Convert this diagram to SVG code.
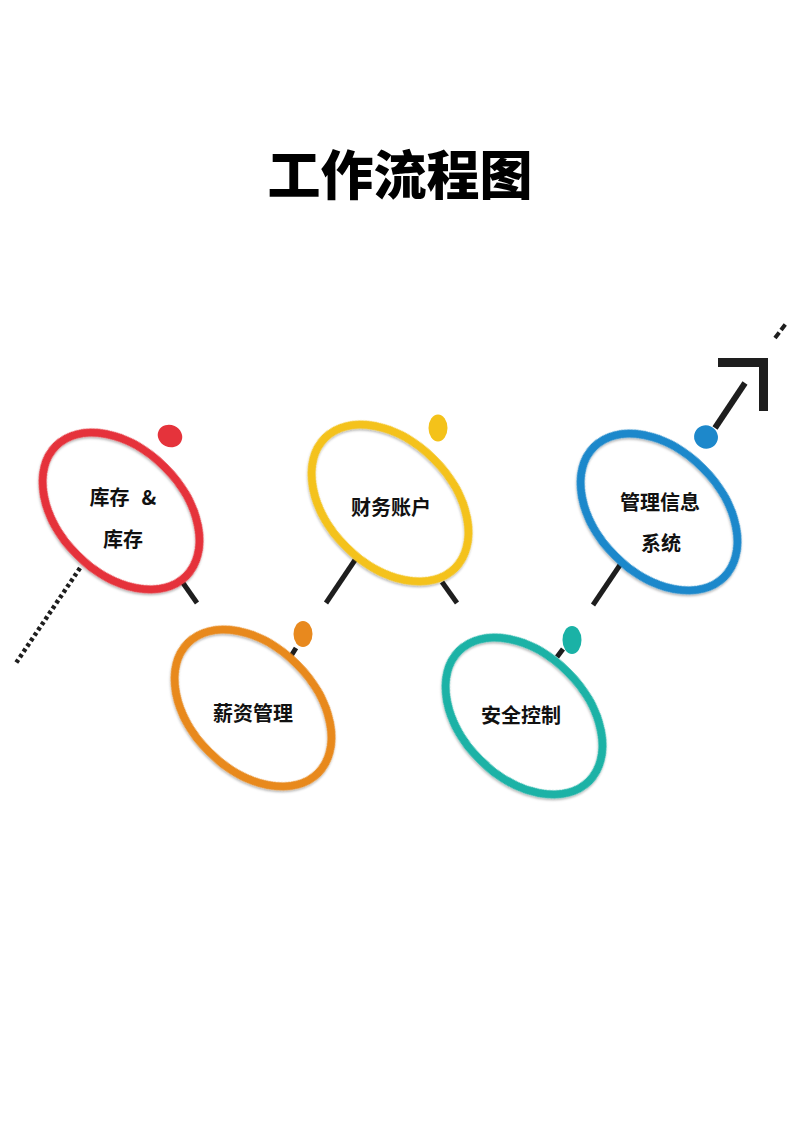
<svg xmlns="http://www.w3.org/2000/svg" width="800" height="1131" viewBox="0 0 800 1131">
  <style>
    .ring { fill: none; stroke-width: 8; }
    .lbl { font-family: "Noto Sans CJK SC", "Noto Sans", sans-serif; font-weight: 700; font-size: 20px; fill: #111; text-anchor: middle; }
    .title { font-family: "Noto Sans CJK SC", "Noto Sans", sans-serif; font-weight: 900; font-size: 53px; fill: #000; text-anchor: middle; }
    .ln { stroke: #1e1e1e; fill: none; }
  </style>
  <defs>
    <filter id="sh" x="-20%" y="-20%" width="140%" height="140%">
      <feDropShadow dx="1" dy="1.5" stdDeviation="1" flood-color="#000" flood-opacity="0.3"/>
    </filter>
  </defs>
  <rect width="800" height="1131" fill="#fff"/>
  <text class="title" x="400" y="195">工作流程图</text>

  <g id="connectors">
    <line class="ln" x1="80" y1="568" x2="16" y2="663" stroke-dasharray="3.5 3" stroke-width="4.5"/>
    <line class="ln" x1="183" y1="583" x2="197" y2="603" stroke-width="5"/>
    <line class="ln" x1="291" y1="656" x2="296" y2="648" stroke-width="5"/>
    <line class="ln" x1="355" y1="560" x2="326" y2="603" stroke-width="5"/>
    <line class="ln" x1="442" y1="582" x2="457" y2="603" stroke-width="5"/>
    <line class="ln" x1="557" y1="657" x2="563" y2="649" stroke-width="5"/>
    <line class="ln" x1="620" y1="565" x2="593" y2="605" stroke-width="5"/>
    <line class="ln" x1="715" y1="428" x2="745" y2="383" stroke-width="6"/>
    <polyline class="ln" points="718,362.5 763.5,362.5 763.5,411" stroke-width="9" stroke-linejoin="miter"/>
    <line class="ln" x1="775" y1="338" x2="786" y2="323.5" stroke-dasharray="7 3" stroke-width="4"/>
  </g>

  <g id="node-inventory">
    <ellipse class="ring" cx="121" cy="511" rx="92" ry="62" transform="rotate(45 121 511)" stroke="#E5333B" filter="url(#sh)"/>
    <ellipse cx="170" cy="436" rx="12.5" ry="11" transform="rotate(25 170 436)" fill="#E5333B"/>
    <text class="lbl" x="123" y="505" xml:space="preserve">库存<tspan dx="12">&amp;</tspan></text>
    <text class="lbl" x="123" y="547">库存</text>
  </g>

  <g id="node-finance">
    <ellipse class="ring" cx="390" cy="503" rx="92" ry="62" transform="rotate(45 390 503)" stroke="#F4C21A" filter="url(#sh)"/>
    <ellipse cx="438" cy="428" rx="9.5" ry="13.5" fill="#F4C21A"/>
    <text class="lbl" x="391" y="515">财务账户</text>
  </g>

  <g id="node-salary">
    <ellipse class="ring" cx="253" cy="708" rx="92" ry="62" transform="rotate(45 253 708)" stroke="#E8891E" filter="url(#sh)"/>
    <ellipse cx="303" cy="634" rx="9.5" ry="13" fill="#E8891E"/>
    <text class="lbl" x="253" y="721">薪资管理</text>
  </g>

  <g id="node-security">
    <ellipse class="ring" cx="524" cy="716" rx="92" ry="62" transform="rotate(45 524 716)" stroke="#1AB2A6" filter="url(#sh)"/>
    <ellipse cx="572" cy="640" rx="9.5" ry="14" fill="#1AB2A6"/>
    <text class="lbl" x="521" y="723">安全控制</text>
  </g>

  <g id="node-mis">
    <ellipse class="ring" cx="659" cy="512" rx="92" ry="62" transform="rotate(45 659 512)" stroke="#1D88CB" filter="url(#sh)"/>
    <ellipse cx="706" cy="437" rx="12" ry="11.5" transform="rotate(25 706 437)" fill="#1D88CB"/>
    <text class="lbl" x="660" y="510">管理信息</text>
    <text class="lbl" x="661" y="551">系统</text>
  </g>
</svg>
